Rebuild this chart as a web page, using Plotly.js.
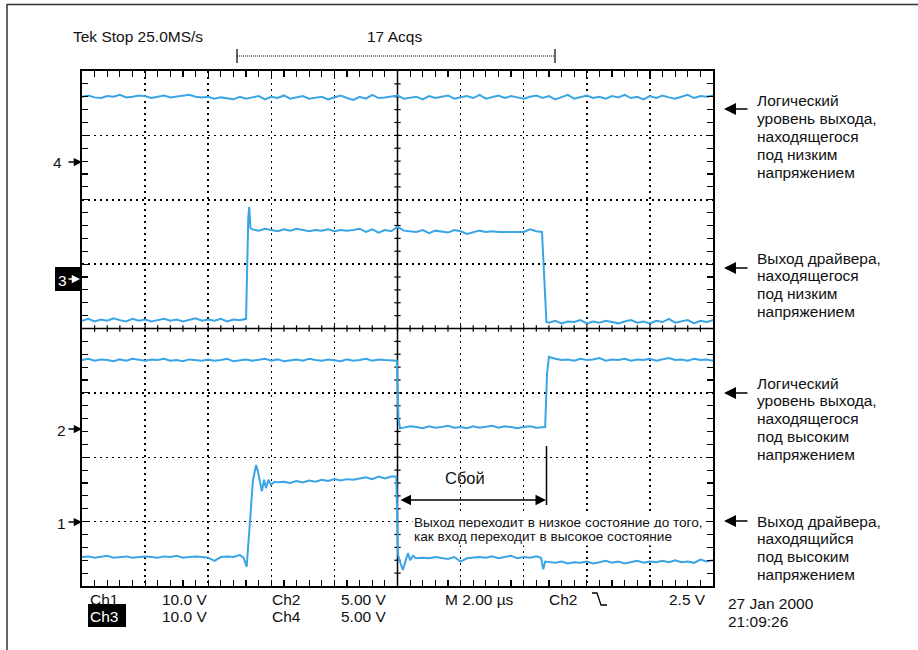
<!DOCTYPE html>
<html>
<head>
<meta charset="utf-8">
<script src="https://cdn.plot.ly/plotly-3.0.1.min.js"></script>
<style>html,body{margin:0;padding:0;background:#fff;}#chart{width:918px;height:650px;}</style>
</head>
<body>
<div id="chart"></div>
<script>
// ---- DATA (time in microseconds, 2 µs/div; vertical in screen divisions) ----
const ch4Time = [0,0.2,0.4,0.6,0.8,1,1.2,1.4,1.6,1.8,2,2.2,2.4,2.6,2.8,3,3.2,3.4,3.6,3.8,4,4.2,4.4,4.6,4.8,5,5.2,5.4,5.6,5.8,6,6.2,6.4,6.6,6.8,7,7.2,7.4,7.6,7.8,8,8.2,8.4,8.6,8.8,9,9.2,9.4,9.6,9.8,10,10.2,10.4,10.6,10.8,11,11.2,11.4,11.6,11.8,12,12.2,12.4,12.6,12.8,13,13.2,13.4,13.6,13.8,14,14.2,14.4,14.6,14.8,15,15.2,15.4,15.6,15.8,16,16.2,16.4,16.6,16.8,17,17.2,17.4,17.6,17.8,18,18.2,18.4,18.6,18.8,19,19.2,19.4,19.6,19.8,20];
const ch4Val = [7.60,7.62,7.59,7.58,7.61,7.60,7.63,7.59,7.60,7.62,
7.61,7.58,7.60,7.62,7.59,7.60,7.61,7.63,7.60,7.59,
7.60,7.57,7.59,7.58,7.56,7.60,7.57,7.59,7.61,7.56,
7.60,7.58,7.62,7.57,7.59,7.61,7.57,7.58,7.60,7.56,
7.59,7.62,7.58,7.55,7.60,7.57,7.63,7.58,7.59,7.61,
7.62,7.57,7.59,7.60,7.56,7.61,7.58,7.60,7.62,7.57,
7.59,7.61,7.58,7.63,7.57,7.60,7.62,7.58,7.61,7.59,
7.57,7.60,7.62,7.58,7.61,7.56,7.60,7.63,7.57,7.59,
7.62,7.58,7.60,7.57,7.61,7.59,7.63,7.58,7.60,7.56,
7.61,7.58,7.62,7.59,7.57,7.60,7.63,7.58,7.61,7.60,7.62];

const ch3Time = [0,0.2,0.4,0.6,0.8,1,1.2,1.4,1.6,1.8,2,2.2,2.4,2.6,2.8,3,3.2,3.4,3.6,3.8,4,4.2,4.4,4.6,4.8,5,5.2,
5.27,5.30,5.34,
5.4,5.6,5.8,6,6.2,6.4,6.6,6.8,7,7.2,7.4,7.6,7.8,8,8.2,8.4,8.6,8.8,9,9.2,9.4,9.6,9.8,10,10.2,10.4,10.6,10.8,11,11.2,11.4,11.6,11.8,12,12.2,12.4,12.6,12.8,13,13.2,13.4,13.6,13.8,14,14.2,14.4,
14.58,14.72,
14.8,15,15.2,15.4,15.6,15.8,16,16.2,16.4,16.6,16.8,17,17.2,17.4,17.6,17.8,18,18.2,18.4,18.6,18.8,19,19.2,19.4,19.6,19.8,20];
const ch3Val = [4.12,4.15,4.11,4.14,4.12,4.16,4.13,4.11,4.15,4.12,4.14,4.11,4.13,4.15,4.12,4.14,4.11,4.13,4.16,4.12,4.14,4.12,4.15,4.11,4.14,4.13,4.15,
5.72,5.89,5.56,
5.54,5.52,5.55,5.53,5.51,5.54,5.52,5.55,5.53,5.51,
5.53,5.52,5.54,5.51,5.53,5.52,5.53,5.55,5.50,5.54,
5.49,5.53,5.51,5.58,5.52,5.51,5.50,5.53,5.48,5.52,
5.50,5.49,5.53,5.51,5.47,5.50,5.52,5.50,5.51,5.50,
5.50,5.51,5.50,5.50,5.54,5.51,
5.50,4.10,
4.09,4.12,4.08,4.11,4.10,4.13,4.08,4.11,4.09,4.12,4.10,4.08,4.11,4.13,4.09,4.11,4.08,4.12,4.10,4.15,4.09,4.11,4.13,4.08,4.12,4.10,4.13];

const ch2Time = [0,0.2,0.4,0.6,0.8,1,1.2,1.4,1.6,1.8,2,2.2,2.4,2.6,2.8,3,3.2,3.4,3.6,3.8,4,4.2,4.4,4.6,4.8,5,5.2,5.4,5.6,5.8,6,6.2,6.4,6.6,6.8,7,7.2,7.4,7.6,7.8,8,8.2,8.4,8.6,8.8,9,9.2,9.4,9.6,9.8,
9.98,10.03,10.08,
10.2,10.4,10.6,10.8,11,11.2,11.4,11.6,11.8,12,12.2,12.4,12.6,12.8,13,13.2,13.4,13.6,13.8,14,14.2,14.4,14.6,
14.68,14.74,14.80,
15,15.2,15.4,15.6,15.8,16,16.2,16.4,16.6,16.8,17,17.2,17.4,17.6,17.8,18,18.2,18.4,18.6,18.8,19,19.2,19.4,19.6,19.8,20];
const ch2Val = [3.51,3.53,3.50,3.52,3.51,3.49,3.52,3.50,3.53,3.51,
3.50,3.52,3.51,3.53,3.50,3.51,3.49,3.52,3.51,3.50,
3.52,3.50,3.51,3.53,3.49,3.51,3.52,3.50,3.51,3.53,
3.50,3.52,3.49,3.51,3.52,3.50,3.53,3.51,3.50,3.52,
3.51,3.49,3.52,3.50,3.51,3.53,3.50,3.52,3.51,3.50,
3.50,2.60,2.45,
2.46,2.48,2.47,2.45,2.48,2.46,2.47,2.49,2.46,2.47,2.45,2.48,2.46,2.47,2.49,2.46,2.48,2.47,2.45,2.47,2.48,2.46,2.47,
2.47,3.30,3.56,
3.53,3.51,3.52,3.50,3.53,3.51,3.52,3.54,3.50,3.52,3.51,3.53,3.50,3.52,3.51,3.53,3.50,3.52,3.54,3.51,3.52,3.50,3.53,3.51,3.52,3.50];

const ch1Time = [0,0.2,0.4,0.6,0.8,1,1.2,1.4,1.6,1.8,2,2.2,2.4,2.6,2.8,3,3.2,3.4,3.6,3.8,4,4.2,4.4,4.6,4.8,5,
5.12,5.22,5.33,5.42,5.52,5.58,5.70,5.77,5.83,5.91,5.99,6.1,
6.2,6.4,6.6,6.8,7,7.2,7.4,7.6,7.8,8,8.2,8.4,8.6,8.8,9,9.2,9.4,9.6,9.8,
9.96,10.02,10.06,10.17,10.33,10.40,10.49,10.58,
10.8,11,11.2,11.4,11.6,11.8,12,12.2,12.4,12.6,12.8,13,13.2,13.4,13.6,13.8,14,14.2,14.4,
14.55,14.62,14.68,
14.8,15,15.2,15.4,15.6,15.8,16,16.2,16.4,16.6,16.8,17,17.2,17.4,17.6,17.8,18,18.2,18.4,18.6,18.8,19,19.2,19.4,19.6,19.8,20];
const ch1Val = [0.45,0.46,0.44,0.45,0.47,0.44,0.45,0.46,0.44,0.45,0.46,0.45,0.44,0.46,0.45,0.47,0.44,0.45,0.46,0.45,0.44,0.39,0.45,0.46,0.45,0.48,
0.44,0.30,1.02,1.65,1.88,1.77,1.47,1.65,1.52,1.65,1.57,1.62,
1.61,1.62,1.60,1.63,1.61,1.64,1.62,1.65,1.63,1.66,1.64,1.66,1.65,1.67,1.69,1.66,1.70,1.67,1.70,
1.70,0.48,0.40,0.25,0.51,0.40,0.47,0.43,
0.44,0.43,0.45,0.44,0.42,0.45,0.38,0.43,0.44,0.45,0.44,0.46,0.43,0.45,0.47,0.43,0.45,0.44,0.46,
0.44,0.26,0.38,
0.37,0.36,0.38,0.35,0.37,0.36,0.38,0.35,0.37,0.39,0.36,0.38,0.35,0.37,0.39,0.36,0.38,0.37,0.39,0.37,0.40,0.37,0.38,0.36,0.41,0.38,0.40];

// Text labels
const headerLeft = 'Tek Stop 25.0MS/s';
const headerMid = '17 Acqs';
const channelMarkers = ['4', '3', '2', '1'];
const row1Labels = ['Ch1', '10.0 V', 'Ch2', '5.00 V', 'M 2.00 µs', 'Ch2', '2.5 V'];
const row2Labels = ['Ch3', '10.0 V', 'Ch4', '5.00 V'];
const dateLabels = ['27 Jan 2000', '21:09:26'];
const glitchLabel = 'Сбой';
const glitchNote = ['Выход переходит в низкое состояние до того,', 'как вход переходит в высокое состояние'];
const sideNotes = [
  ['Логический', 'уровень выхода,', 'находящегося', 'под низким', 'напряжением'],
  ['Выход драйвера,', 'находящегося', 'под низким', 'напряжением'],
  ['Логический', 'уровень выхода,', 'находящегося', 'под высоким', 'напряжением'],
  ['Выход драйвера,', 'находящийся', 'под высоким', 'напряжением']
];

// ---- LAYOUT HELPERS (pixel -> paper) ----
const L = 82, T = 71, W = 631, H = 515;
const X = p => (p - L) / W;
const Y = p => (T + H - p) / H;
const FONT = 'Liberation Sans, Arial, sans-serif';
const INK = '#111';
const TRACE = '#3aa5e4';
const FS = 15.5;

const annotations = [];
const shapes = [];
function txt(s, x, y, o) {
  o = o || {};
  annotations.push({text: s, xref: 'paper', yref: 'paper', x: X(x), y: Y(y),
    xanchor: o.xa || 'left', yanchor: 'middle', showarrow: false,
    font: {family: FONT, size: o.size || FS, color: o.color || INK},
    bgcolor: o.bg, borderpad: o.bg ? 1 : 0});
}
function arrow(tipX, tailX, y, o) {
  o = o || {};
  annotations.push({text: '', xref: 'paper', yref: 'paper', x: X(tipX), y: Y(y),
    ax: tailX - tipX, ay: 0, axref: 'pixel', ayref: 'pixel', showarrow: true,
    arrowhead: o.head || 2, arrowsize: o.size || 1.5, arrowwidth: o.width || 1.5,
    arrowcolor: o.color || '#000', arrowside: o.side || 'end', startarrowhead: o.head || 2,
    startarrowsize: o.size || 1.5, standoff: 0, startstandoff: 0});
}
function pline(x0, y0, x1, y1, o) {
  o = o || {};
  shapes.push({type: 'line', xref: 'paper', yref: 'paper', x0: X(x0), y0: Y(y0), x1: X(x1), y1: Y(y1),
    line: {color: o.color || '#000', width: o.width || 1, dash: o.dash || 'solid'}});
}
function prect(x0, y0, x1, y1, fill) {
  shapes.push({type: 'rect', xref: 'paper', yref: 'paper', x0: X(x0), y0: Y(y0), x1: X(x1), y1: Y(y1),
    fillcolor: fill, line: {width: 0}});
}

// outer frame
pline(7, 4.5, 918, 4.5, {color: '#333', width: 1.5});
pline(7, 4, 7, 650, {color: '#333', width: 1.5});

// header
txt(headerLeft, 72, 37);
txt(headerMid, 394, 37, {xa: 'center'});
pline(237, 56, 555, 56, {dash: '1px,1px', width: 1});
pline(237, 49, 237, 63, {width: 1.2});
pline(555, 49, 555, 63, {width: 1.2});

// center crosshair (data coords) with minor ticks
shapes.push({type: 'line', xref: 'x', yref: 'y', x0: 10, x1: 10, y0: 0, y1: 8, line: {color: '#000', width: 1.5}, layer: 'below'});
shapes.push({type: 'line', xref: 'x', yref: 'y', x0: 0, x1: 20, y0: 4, y1: 4, line: {color: '#000', width: 1.5}, layer: 'below'});
for (let i = 1; i < 50; i++) {
  const xv = i * 0.4;
  shapes.push({type: 'line', xref: 'x', yref: 'y', x0: xv, x1: xv, y0: 4 - 0.05, y1: 4 + 0.05, line: {color: '#000', width: 1.2}, layer: 'below'});
}
for (let i = 1; i < 40; i++) {
  const yv = i * 0.2;
  shapes.push({type: 'line', xref: 'x', yref: 'y', x0: 10 - 0.1, x1: 10 + 0.1, y0: yv, y1: yv, line: {color: '#000', width: 1.2}, layer: 'below'});
}

// channel markers on the left
const mk = {size: 1.1, width: 1.5};
txt(channelMarkers[0], 57, 162, {xa: 'center'});
arrow(82, 67, 162, mk);
prect(55, 267, 82, 291, '#000');
txt(channelMarkers[1], 62, 280, {xa: 'center', color: '#fff'});
arrow(80, 67, 279, {size: 1.1, width: 1.5, color: '#fff'});
txt(channelMarkers[2], 61, 430, {xa: 'center'});
arrow(82, 67, 429, mk);
txt(channelMarkers[3], 61, 523, {xa: 'center'});
arrow(82, 67, 522, mk);

// bottom readout
txt(row1Labels[0], 89, 599);
txt(row1Labels[1], 161, 599);
txt(row1Labels[2], 271, 599);
txt(row1Labels[3], 340, 599);
txt(row1Labels[4], 444, 599);
txt(row1Labels[5], 548, 599);
txt(row1Labels[6], 707, 599, {xa: 'right'});
shapes.push({type: 'path', xref: 'paper', yref: 'paper',
  path: 'M' + X(592) + ',' + Y(593) + ' L' + X(597) + ',' + Y(593) + ' L' + X(601) + ',' + Y(605) + ' L' + X(607) + ',' + Y(605),
  line: {color: '#000', width: 1.3}});
prect(88, 604, 126, 627, '#000');
txt(row2Labels[0], 89, 616, {color: '#fff'});
txt(row2Labels[1], 161, 616);
txt(row2Labels[2], 271, 616);
txt(row2Labels[3], 340, 616);
txt(dateLabels[0], 727, 603);
txt(dateLabels[1], 727, 621);

// glitch callout
txt(glitchLabel, 465, 478, {xa: 'center', size: 16.5});
arrow(546, 399, 500, {side: 'end+start', size: 1.4});
pline(546.5, 446, 546.5, 505, {width: 1.5});
txt(glitchNote[0], 412, 522, {size: 13.6, bg: '#fff'});
txt(glitchNote[1], 412, 536, {size: 13.6, bg: '#fff'});

// side notes
const sideArrowY = [109, 268, 393, 521];
const sideFirstLineY = [101, 258, 383, 521];
const sideStep = 17.8;
sideNotes.forEach((lines, g) => {
  arrow(724, 749, sideArrowY[g], {size: 1.6});
  lines.forEach((s, k) => txt(s, 756, sideFirstLineY[g] + k * sideStep));
});

const traceStyle = {color: TRACE, width: 2};
const data = [
  {x: ch4Time, y: ch4Val, mode: 'lines', line: traceStyle, hoverinfo: 'skip'},
  {x: ch3Time, y: ch3Val, mode: 'lines', line: traceStyle, hoverinfo: 'skip'},
  {x: ch2Time, y: ch2Val, mode: 'lines', line: traceStyle, hoverinfo: 'skip'},
  {x: ch1Time, y: ch1Val, mode: 'lines', line: traceStyle, hoverinfo: 'skip'}
];

const axisCommon = {
  showgrid: true, gridcolor: '#000', griddash: '1.5px,4.5px', gridwidth: 1.5,
  showticklabels: false, ticks: 'inside', ticklen: 6, tickwidth: 1.2, tickcolor: '#000',
  showline: true, linecolor: '#000', linewidth: 2, mirror: 'ticks', zeroline: false, fixedrange: true
};
const layout = {
  width: 918, height: 650,
  margin: {l: L, r: 918 - L - W, t: T, b: 650 - T - H, pad: 0},
  paper_bgcolor: '#fff', plot_bgcolor: '#fff',
  showlegend: false,
  xaxis: Object.assign({}, axisCommon, {range: [0, 20], dtick: 2, tick0: 0,
    minor: {dtick: 0.4, tick0: 0, ticks: 'inside', ticklen: 6, tickwidth: 1.2, tickcolor: '#000', showgrid: false}}),
  yaxis: Object.assign({}, axisCommon, {range: [0, 8], dtick: 1, tick0: 0,
    minor: {dtick: 0.2, tick0: 0, ticks: 'inside', ticklen: 6, tickwidth: 1.2, tickcolor: '#000', showgrid: false}}),
  shapes: shapes,
  annotations: annotations
};
Plotly.newPlot('chart', data, layout, {staticPlot: true, displayModeBar: false});
</script>
</body>
</html>
